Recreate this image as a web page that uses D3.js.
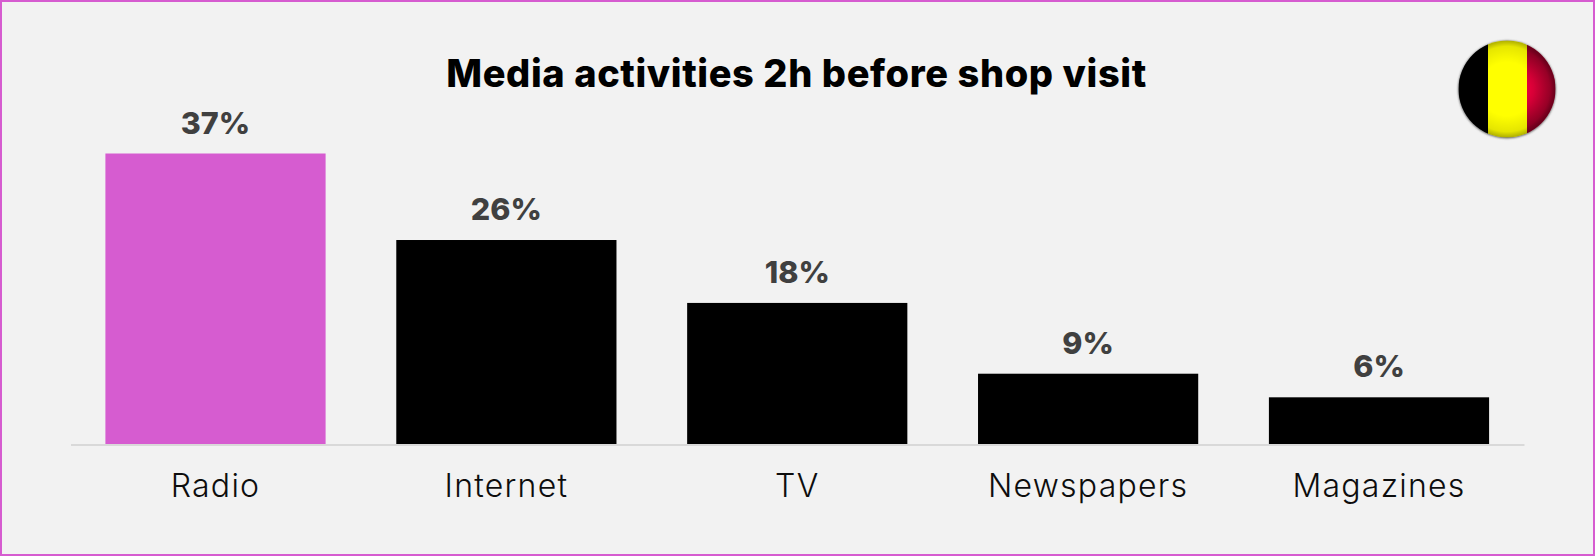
<!DOCTYPE html>
<html>
<head>
<meta charset="utf-8">
<script src="https://cdn.jsdelivr.net/npm/d3@7/dist/d3.min.js"></script>
<style>
html,body{margin:0;padding:0;background:#f2f2f2;overflow:hidden}
svg{display:block}
text{font-family:Inter,"Open Sans",sans-serif}
</style>
</head>
<body>
<svg id="chart" width="1595" height="556"></svg>
<script>
const categories = ["Radio", "Internet", "TV", "Newspapers", "Magazines"];
const shares = [37, 26, 18, 9, 6];
const barColors = ["#d65cd0", "#000000", "#000000", "#000000", "#000000"];
const flagStripes = ["#000000", "#ffff00", "#e4003a"];
const chartTitle = "Media activities 2h before shop visit";

const svg = d3.select("#chart");
const W = 1595, H = 556;
const plot = {left: 70.5, right: 1524, baseline: 444.5, top: 153.5};

const x = d3.scaleBand().domain(categories).range([plot.left, plot.right]).paddingInner(0.243).paddingOuter(0.12);
const y = d3.scaleLinear().domain([0, 37]).range([plot.baseline, plot.top]);

// Page background and outer border
svg.append("rect").attr("x", 1).attr("y", 1).attr("width", W - 2).attr("height", H - 2)
  .attr("fill", "#f2f2f2").attr("stroke", "#d65cd0").attr("stroke-width", 2);

svg.append("text").attr("x", 796.5).attr("y", 87).attr("text-anchor", "middle")
  .attr("font-size", 38).attr("font-weight", 800).attr("letter-spacing", 0.6).attr("fill", "#000").text(chartTitle);

svg.selectAll("rect.bar").data(categories).join("rect").attr("class", "bar")
  .attr("x", d => x(d)).attr("width", x.bandwidth())
  .attr("y", (d, i) => y(shares[i])).attr("height", (d, i) => y(0) - y(shares[i]))
  .attr("fill", (d, i) => barColors[i]);

// Baseline and category labels come from the band-scale axis
const axis = svg.append("g").attr("transform", `translate(0,${plot.baseline})`)
  .call(d3.axisBottom(x).tickSize(0).tickPadding(30));
axis.select(".domain").attr("stroke", "#d9d9d9").attr("stroke-width", 2);
axis.selectAll("text").attr("font-size", 32).attr("fill", "#0d0d0d").attr("font-weight", 300)
  .attr("letter-spacing", 1.25).attr("font-family", 'Inter,"Open Sans",sans-serif');

svg.selectAll("text.value").data(categories).join("text").attr("class", "value")
  .attr("x", d => x(d) + x.bandwidth() / 2).attr("y", (d, i) => y(shares[i]) - 20)
  .attr("text-anchor", "middle").attr("font-size", 30.5).attr("font-weight", 800).attr("fill", "#404040")
  .text((d, i) => shares[i] + "%");

// Round Belgian flag badge with a glossy, darkened rim
const flagCx = 1507, flagCy = 89, flagR = 48.5;
const defs = svg.append("defs");
defs.append("clipPath").attr("id", "flagClip").append("circle").attr("cx", flagCx).attr("cy", flagCy).attr("r", flagR);
const shade = defs.append("radialGradient").attr("id", "flagShade");
shade.append("stop").attr("offset", "0.55").attr("stop-color", "#000").attr("stop-opacity", 0);
shade.append("stop").attr("offset", "0.88").attr("stop-color", "#000").attr("stop-opacity", 0.1);
shade.append("stop").attr("offset", "1").attr("stop-color", "#000").attr("stop-opacity", 0.32);
const edgeRed = defs.append("radialGradient").attr("id", "redShade")
  .attr("gradientUnits", "userSpaceOnUse").attr("cx", flagCx + 10).attr("cy", flagCy).attr("r", 40);
edgeRed.append("stop").attr("offset", "0.3").attr("stop-color", "#000").attr("stop-opacity", 0);
edgeRed.append("stop").attr("offset", "1").attr("stop-color", "#000").attr("stop-opacity", 0.35);
defs.append("filter").attr("id", "flagBlur").append("feGaussianBlur").attr("stdDeviation", 0.9);
const stripeX = d3.scaleOrdinal().domain(flagStripes).range([flagCx - flagR, 1488, 1527]);
const stripeW = d3.scaleOrdinal().domain(flagStripes).range([1488 - (flagCx - flagR), 39, flagCx + flagR - 1527]);

svg.append("circle").attr("cx", flagCx).attr("cy", flagCy + 0.5).attr("r", flagR + 0.2)
  .attr("fill", "#555").attr("filter", "url(#flagBlur)");
const flag = svg.append("g").attr("clip-path", "url(#flagClip)");
flag.selectAll("rect.stripe").data(flagStripes).join("rect").attr("class", "stripe")
  .attr("x", d => stripeX(d)).attr("y", flagCy - flagR).attr("width", d => stripeW(d)).attr("height", flagR * 2).attr("fill", d => d);
flag.append("rect").attr("x", 1527).attr("y", flagCy - flagR).attr("width", flagCx + flagR - 1527).attr("height", flagR * 2)
  .attr("fill", "url(#redShade)");
flag.append("circle").attr("cx", flagCx).attr("cy", flagCy).attr("r", flagR).attr("fill", "url(#flagShade)");
</script>
</body>
</html>
